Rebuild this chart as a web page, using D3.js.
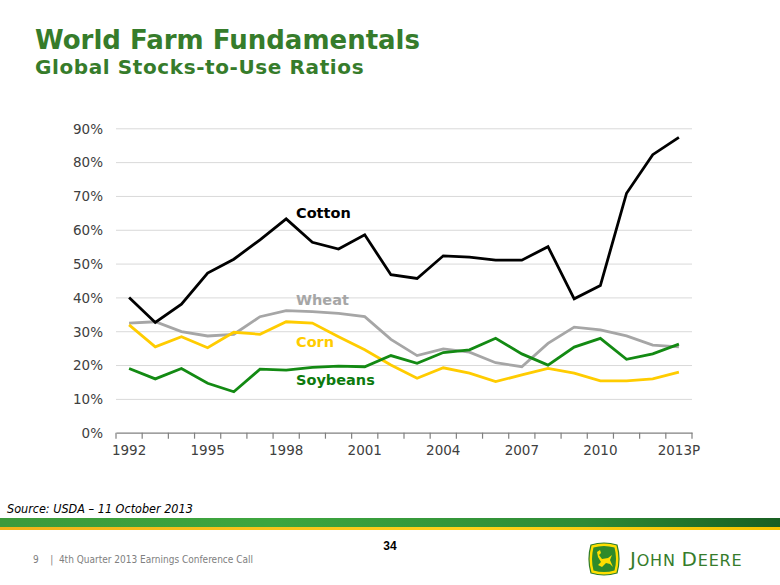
<!DOCTYPE html>
<html><head><meta charset="utf-8">
<script src="https://cdn.jsdelivr.net/npm/d3@7"></script>
<style>body{margin:0;background:#fff;} svg{display:block}</style>
</head><body><svg id="c" width="780" height="585"></svg>
<script>
// ---------- data ----------
const categories = ["1992","1993","1994","1995","1996","1997","1998","1999","2000","2001","2002",
  "2003","2004","2005","2006","2007","2008","2009","2010","2011","2012","2013P"];
const tickLabels = ["1992","1995","1998","2001","2004","2007","2010","2013P"];
const yTicks = [0,0.1,0.2,0.3,0.4,0.5,0.6,0.7,0.8,0.9];
const cotton   = [40.0,32.6,38.0,47.2,51.3,57.0,63.2,56.3,54.3,58.5,46.7,45.6,52.3,51.9,51.0,51.0,55.0,39.6,43.5,70.8,82.2,87.3];
const wheat    = [32.4,32.8,29.9,28.6,29.1,34.3,36.1,35.8,35.3,34.3,27.6,22.8,24.8,23.8,20.7,19.5,26.4,31.2,30.4,28.6,25.9,25.4];
const corn     = [31.9,25.4,28.4,25.1,29.7,29.1,32.8,32.4,28.4,24.5,20.0,16.1,19.2,17.6,15.1,17.1,19.0,17.6,15.3,15.3,15.9,17.9];
const soybeans = [19.0,15.9,19.0,14.6,12.1,18.8,18.5,19.3,19.7,19.5,22.8,20.5,23.7,24.5,27.9,23.3,20.0,25.3,27.9,21.7,23.3,26.2];
const seriesNames = ["Wheat","Corn","Soybeans","Cotton"];

// ---------- layout ----------
const svg = d3.select("#c");
const green = "#367c2b";
const plotL = 116, plotR = 692, plotT = 128.3, plotB = 432.7;

const x = d3.scaleBand().domain(categories).range([plotL, plotR]);
const y = d3.scaleLinear().domain([0, 0.9]).range([plotB, plotT]);
const cx = c => x(c) + x.bandwidth() / 2;

// title
svg.append("text").attr("x", 35).attr("y", 48.8)
  .attr("font-family", "DejaVu Sans").attr("font-weight", "bold").attr("font-size", 26)
  .attr("fill", green).text("World Farm Fundamentals");
svg.append("text").attr("x", 35).attr("y", 73.6)
  .attr("font-family", "DejaVu Sans").attr("font-weight", "bold").attr("font-size", 20)
  .attr("letter-spacing", 0.6)
  .attr("fill", green).text("Global Stocks-to-Use Ratios");

// gridlines
const grid = svg.append("g").attr("transform", `translate(${plotL},0)`)
  .call(d3.axisLeft(y).tickValues(yTicks.slice(1)).tickSize(-(plotR - plotL)).tickFormat(""));
grid.select(".domain").remove();
grid.selectAll("line").attr("stroke", "#d9d9d9").attr("stroke-width", 1);

// y axis labels
const ya = svg.append("g").attr("transform", `translate(${plotL - 13},0)`)
  .call(d3.axisLeft(y).tickValues(yTicks).tickSize(0).tickFormat(d3.format(".0%")));
ya.select(".domain").remove();
ya.selectAll("text").attr("font-family", "DejaVu Sans").attr("font-size", 13.5)
  .attr("fill", "#404040").attr("x", 0).attr("dy", "0.36em");

// x axis
const xa = svg.append("g").attr("transform", `translate(0,${plotB})`)
  .call(d3.axisBottom(x).tickSize(0).tickFormat(d => tickLabels.includes(d) ? d : ""));
xa.select(".domain").attr("stroke", "#808080").attr("stroke-width", 1.2);
xa.selectAll("text").attr("font-family", "DejaVu Sans").attr("font-size", 13.5)
  .attr("fill", "#404040").attr("y", 22.5).attr("dy", 0);
// boundary tick marks
const edges = categories.map(c => x(c)).concat([plotR]);
xa.selectAll("line.edge").data(edges).join("line").attr("class", "edge")
  .attr("x1", d => d).attr("x2", d => d).attr("y1", 0).attr("y2", 6)
  .attr("stroke", "#808080").attr("stroke-width", 1.2);

// lines
const seriesData = { Cotton: cotton, Wheat: wheat, Corn: corn, Soybeans: soybeans };
const lineColors = { Cotton: "#000000", Wheat: "#a6a6a6", Corn: "#ffcc00", Soybeans: "#138a13" };
const line = d3.line().x((d, i) => cx(categories[i])).y(d => y(d / 100));
seriesNames.forEach(n => {
  svg.append("path").datum(seriesData[n]).attr("d", line)
    .attr("fill", "none").attr("stroke", lineColors[n]).attr("stroke-width", 2.8)
    .attr("stroke-linejoin", "miter");
});

// series labels
const labelColors = { Cotton: "#000000", Wheat: "#a6a6a6", Corn: "#ffcc00", Soybeans: "#0d7a0d" };
const labelPos = { Cotton: [296, 217.5], Wheat: [296, 304.5], Corn: [296, 347], Soybeans: [296, 384.5] };
seriesNames.forEach(n => {
  svg.append("text").attr("x", labelPos[n][0]).attr("y", labelPos[n][1])
    .attr("font-family", "DejaVu Sans").attr("font-weight", "bold").attr("font-size", 14.5)
    .attr("fill", labelColors[n]).text(n);
});

// source
svg.append("text").attr("x", 7).attr("y", 513)
  .attr("font-family", "DejaVu Sans Condensed, DejaVu Sans").attr("font-style", "italic")
  .attr("font-size", 12.5).attr("fill", "#000").text("Source: USDA – 11 October 2013");

// footer bar
const defs = svg.append("defs");
const gr = defs.append("linearGradient").attr("id", "gbar");
gr.append("stop").attr("offset", "0%").attr("stop-color", "#3c9a3c");
gr.append("stop").attr("offset", "35%").attr("stop-color", "#3da63f");
gr.append("stop").attr("offset", "75%").attr("stop-color", "#2e8b36");
gr.append("stop").attr("offset", "100%").attr("stop-color", "#185f22");
const gy = defs.append("linearGradient").attr("id", "ybar");
gy.append("stop").attr("offset", "0%").attr("stop-color", "#f2b21a");
gy.append("stop").attr("offset", "60%").attr("stop-color", "#ffd21a");
gy.append("stop").attr("offset", "100%").attr("stop-color", "#f4c400");
svg.append("rect").attr("x", 0).attr("y", 518).attr("width", 780).attr("height", 9).attr("fill", "url(#gbar)");
svg.append("rect").attr("x", 0).attr("y", 527).attr("width", 780).attr("height", 3).attr("fill", "url(#ybar)");

// page number
svg.append("text").attr("x", 390).attr("y", 549.5).attr("text-anchor", "middle")
  .attr("font-family", "Liberation Sans Narrow, Liberation Sans").attr("font-weight", "bold")
  .attr("font-size", 12).attr("fill", "#000").text("34");

// footer text
svg.append("text").attr("x", 33).attr("y", 563)
  .attr("font-family", "DejaVu Sans Condensed, DejaVu Sans").attr("font-size", 10)
  .attr("fill", "#808080").attr("xml:space", "preserve").text("9    |  4th Quarter 2013 Earnings Conference Call");

// John Deere logo
const logo = svg.append("g").attr("transform", "translate(588,543)");
logo.append("path").attr("d", "M3,2 Q16,-2 29,2 Q33,16 29,30 Q16,34 3,30 Q-1,16 3,2 Z")
  .attr("fill", "#ffde00").attr("stroke", "#2f7d2a").attr("stroke-width", 1.2);
logo.append("path").attr("d", "M5.5,4.5 Q16,1.5 26.5,4.5 Q29.5,16 26.5,27.5 Q16,30.5 5.5,27.5 Q2.5,16 5.5,4.5 Z")
  .attr("fill", "#2f8a2a");
logo.append("path").attr("d", "M9,9 L12,7 L13,10 L11,12 L14,16 L20,15 L24,12 L22,17 L25,24 L22,21 L18,20 L14,24 L10,22 L13,19 L10,14 Z")
  .attr("fill", "#ffde00");
const jd = svg.append("text").attr("x", 630).attr("y", 565.5)
  .attr("font-family", "DejaVu Sans, Lato").attr("letter-spacing", 0.8).attr("fill", green);
jd.append("tspan").attr("font-size", 20).text("J");
jd.append("tspan").attr("font-size", 16).text("OHN ");
jd.append("tspan").attr("font-size", 20).text("D");
jd.append("tspan").attr("font-size", 16).text("EERE");
</script></body></html>
